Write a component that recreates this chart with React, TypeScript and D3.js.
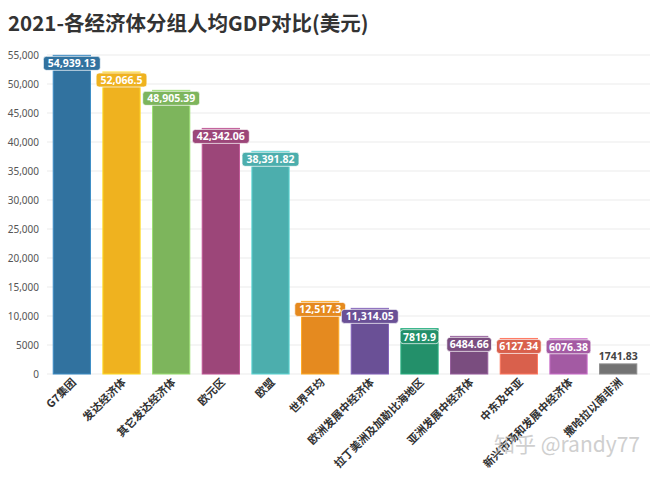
import React from "react";
import * as d3 from "d3";

const categories = ["G7集团", "发达经济体", "其它发达经济体", "欧元区", "欧盟", "世界平均", "欧洲发展中经济体", "拉丁美洲及加勒比海地区", "亚洲发展中经济体", "中东及中亚", "新兴市场和发展中经济体", "撒哈拉以南非洲"];
const values = [54939.13, 52066.5, 48905.39, 42342.06, 38391.82, 12517.3, 11314.05, 7819.9, 6484.66, 6127.34, 6076.38, 1741.83];
const colors = ["#31729f", "#efb21f", "#7db55c", "#9c4679", "#4caead", "#e58a1f", "#6a5096", "#23906a", "#7a4d7f", "#d9604c", "#a35aa3", "#737373"];
const yTicks = [0, 5000, 10000, 15000, 20000, 25000, 30000, 35000, 40000, 45000, 50000, 55000];
const title = "2021-各经济体分组人均GDP对比(美元)";

const W = 660, H = 477;
const left = 47, right = 643, top = 55, bottom = 374;

function fmt(v: number): string {
  if (Math.abs(v) >= 10000) return d3.format(",")(v);
  return String(v);
}

export default function App() {
  const x = d3.scaleBand<string>().domain(categories).range([left, right]).paddingInner(0.25).paddingOuter(0.125);
  const y = d3.scaleLinear().domain([0, 55000]).range([bottom, top]);
  const cjk = "'Noto Sans CJK SC', 'Noto Sans', sans-serif";
  return (
    <svg width={W} height={H} style={{ position: "absolute", left: 0, top: 0, background: "#fff" }}>
      <text x={8} y={31} fontFamily={cjk} fontSize={20.5} fontWeight="bold" fill="#333">{title}</text>
      {yTicks.map((t) => (
        <g key={t}>
          <line x1={left} x2={W - 10} y1={y(t)} y2={y(t)} stroke="#ebebeb" strokeWidth={1} />
          <text x={39} y={y(t) + 3.5} textAnchor="end" fontFamily="'Noto Sans', sans-serif" fontSize={10} fill="#555">{fmt(t)}</text>
        </g>
      ))}
      {categories.map((c, i) => {
        const bx = x(c)!;
        const bw = x.bandwidth();
        const by = y(values[i]);
        return (
          <rect key={c} x={bx} y={by} width={bw} height={bottom - by} fill={colors[i]} stroke={d3.color(colors[i])!.brighter(0.6).toString()} strokeWidth={1} />
        );
      })}
      {categories.map((c, i) => {
        const cx = x(c)! + x.bandwidth() / 2;
        const by = y(values[i]);
        const label = fmt(values[i]);
        const small = values[i] < 3000;
        if (small) {
          return (
            <text key={c} x={cx} y={by - 4} textAnchor="middle" fontFamily="'Noto Sans', sans-serif" fontSize={10.5} fontWeight="bold" fill="#444">{label}</text>
          );
        }
        const tw = label.length * 6.1 + 2;
        return (
          <g key={c}>
            <rect x={cx - tw / 2} y={by + 1} width={tw} height={14} rx={3} fill={colors[i]} stroke="#fff" strokeOpacity={0.7} strokeWidth={1} />
            <text x={cx} y={by + 12} textAnchor="middle" fontFamily="'Noto Sans', sans-serif" fontSize={10.5} fontWeight="bold" fill="#fff">{label}</text>
          </g>
        );
      })}
      {categories.map((c) => {
        const cx = x(c)! + x.bandwidth() / 2;
        return (
          <text key={c} transform={`translate(${cx + 5},${383}) rotate(-45)`} textAnchor="end" fontFamily={cjk} fontSize={11} fontWeight="bold" fill="#333">{c}</text>
        );
      })}
      <text x={640} y={452} textAnchor="end" fontFamily={cjk} fontSize={21} fill="#bbb" opacity={0.7}>知乎 @randy77</text>
    </svg>
  );
}
